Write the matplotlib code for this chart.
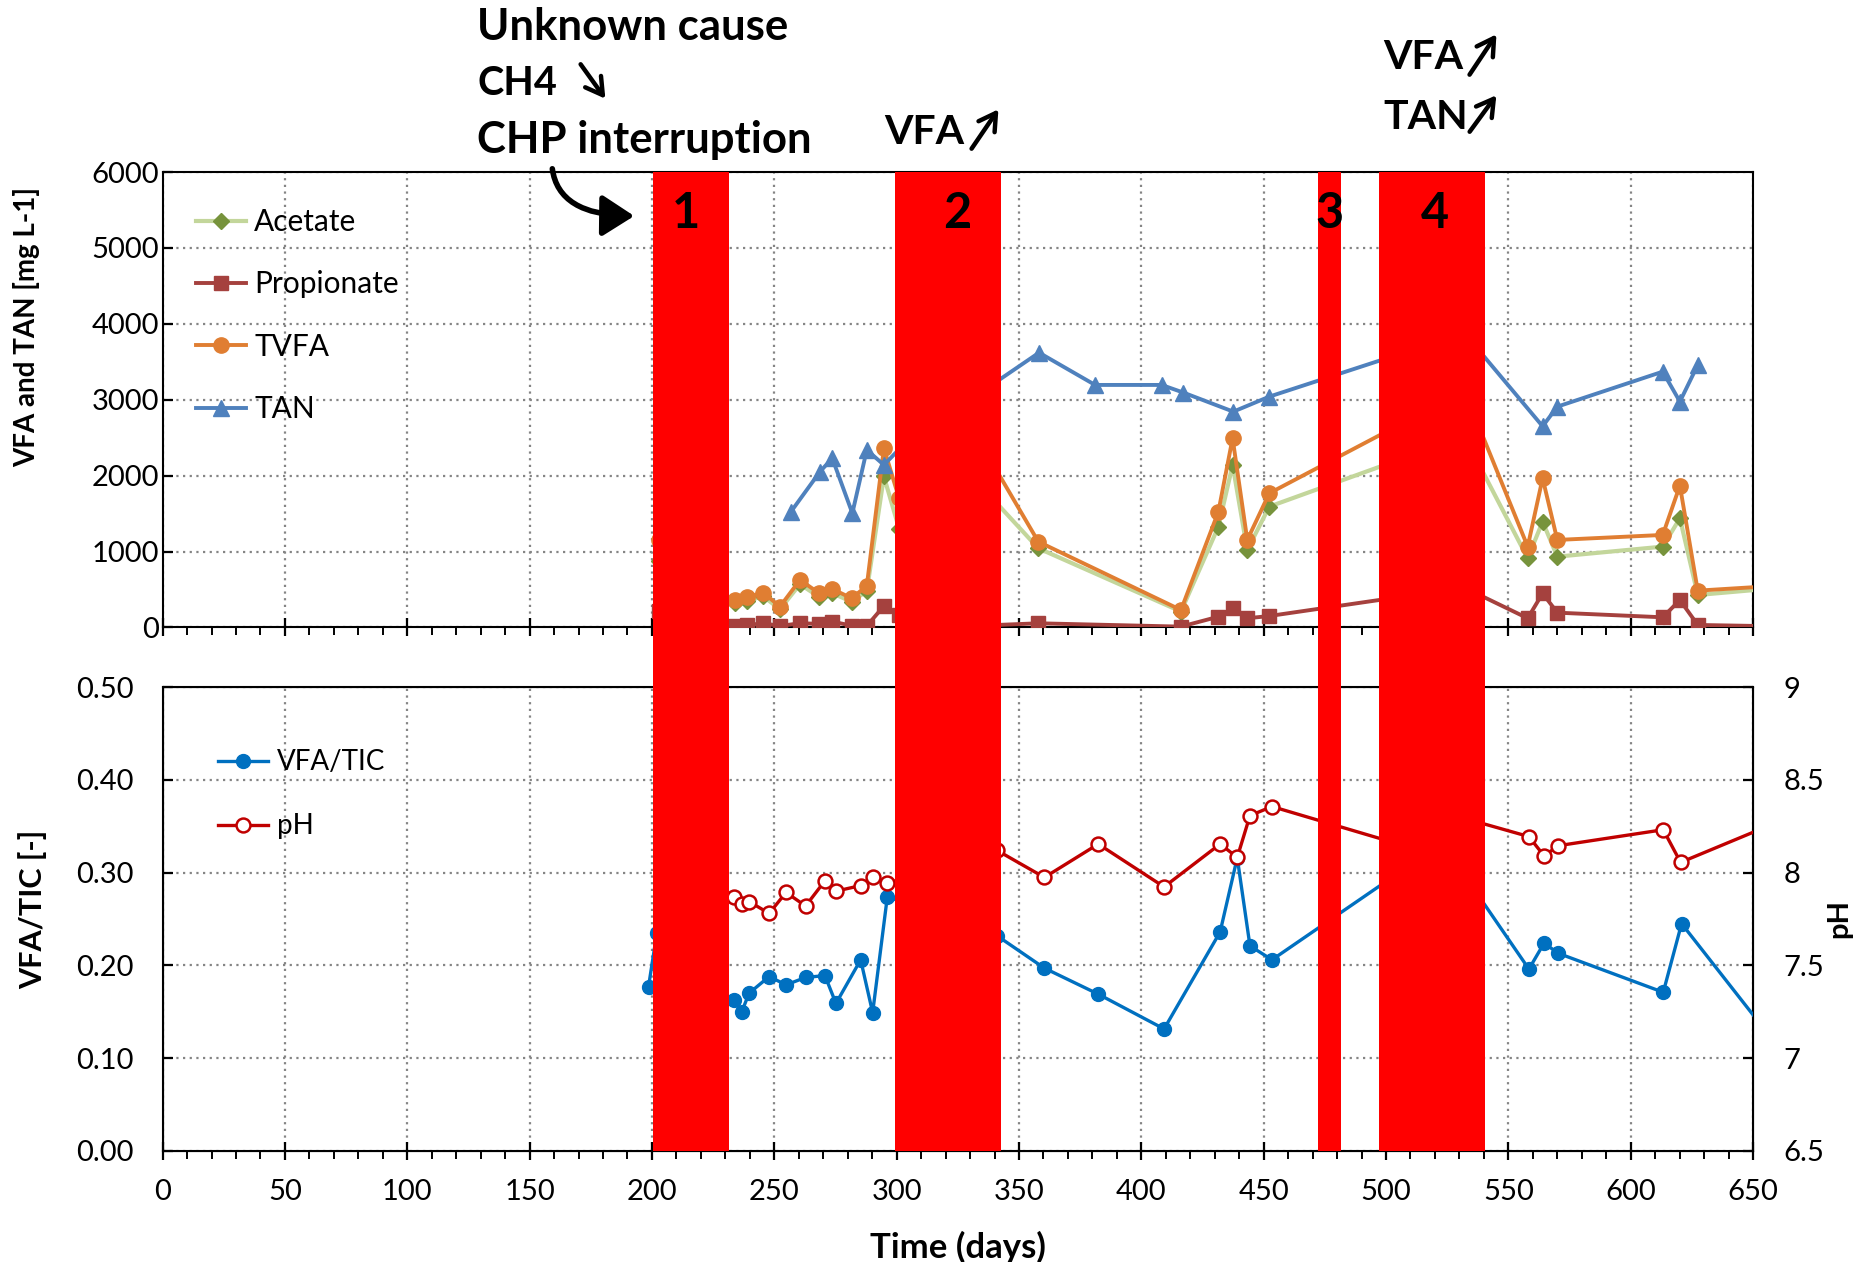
import matplotlib
matplotlib.use("Agg")
import matplotlib.pyplot as plt
from matplotlib.ticker import MultipleLocator, FormatStrFormatter, FuncFormatter
from matplotlib.patches import FancyArrowPatch

plt.rcParams["font.family"] = ["Lato", "DejaVu Sans"]

# datos panel superior (mg/L)
dias_vfa = [203, 218, 227, 234, 238.7, 245.5, 252.3, 260.5, 268.4, 273.7, 281.6, 287.8, 294.8,
            301, 335, 357.9, 416.2, 431.5, 437.3, 443.3, 452.3, 532, 557.9, 564, 570,
            613.1, 620.1, 627.4, 660]
acetato = [880, 420, 330, 320, 350, 410, 240, 570, 400, 450, 340, 480, 1990,
           1300, 1844, 1043, 210, 1328, 2141, 1021, 1592, 2520, 912, 1394, 933,
           1065, 1439, 428, 520]
propionato = [220, 60, 30, 20, 30, 55, 20, 55, 48, 77, 24, 20, 283,
              160, 25, 55, 11, 142, 253, 121, 151, 525, 121, 450, 195,
              134, 362, 33, 15]
tvfa = [1150, 500, 380, 362, 398, 459, 274, 626, 450, 507, 385, 547, 2361,
        1700, 2390, 1130, 230, 1526, 2493, 1153, 1768, 3120, 1065, 1966, 1153,
        1219, 1869, 485, 550]
dias_tan = [256.7, 268.7, 273.7, 281.9, 287.8, 294.8, 305, 335, 358.2, 381.1, 408.3, 417.2,
            437.6, 452.3, 532, 564, 570, 613.1, 620.1, 627.4]
tan = [1520, 2053, 2229, 1505, 2339, 2141, 2480, 3110, 3620, 3195, 3195, 3094,
       2843, 3041, 3880, 2650, 2909, 3370, 2975, 3458]

# datos panel inferior
dias_ratio = [198.6, 202, 215, 227, 233.7, 236.7, 239.7, 247.9, 254.8, 262.8, 270.7, 275.2,
              285.3, 290.2, 296.2, 341, 360.4, 382.4, 409.3, 432.2, 439.2, 444.4, 453.4,
              523, 558.4, 564.6, 570.4, 613.3, 620.8, 660]
vfa_tic = [0.177, 0.235, 0.20, 0.17, 0.163, 0.150, 0.170, 0.188, 0.179, 0.187, 0.189, 0.159,
           0.206, 0.149, 0.274, 0.232, 0.197, 0.169, 0.1315, 0.236, 0.316, 0.221, 0.206,
           0.332, 0.196, 0.224, 0.213, 0.171, 0.245, 0.113]
dias_ph = [206, 215, 227, 233.7, 236.7, 239.7, 247.9, 254.8, 262.8, 270.7, 275.2, 285.3,
           290.2, 296.2, 341, 360.4, 382.4, 409.3, 432.2, 439.2, 444.4, 453.4, 510, 530,
           558.4, 564.6, 570.4, 613.3, 620.4, 660]
ph = [7.80, 7.85, 7.87, 7.866, 7.83, 7.844, 7.78, 7.893, 7.82, 7.956, 7.90, 7.93,
      7.974, 7.943, 8.12, 7.974, 8.154, 7.923, 8.154, 8.082, 8.307, 8.356, 8.135, 8.30,
      8.194, 8.09, 8.145, 8.231, 8.055, 8.272]

periodos = [(200.6, 231.5), (299.3, 342.5), (472.3, 481.5), (497.1, 540.4)]
nombres_periodo = ["1", "2", "3", "4"]
x_nombres = [213.8, 324.7, 477, 520]

fs_tick = 21
gris = "#858585"

fig = plt.figure(figsize=(18.6, 12.62), dpi=100)
ax1 = fig.add_axes([0.0874, 0.5028, 0.8551, 0.3609])
ax2 = fig.add_axes([0.0874, 0.0880, 0.8551, 0.3676])
ax2b = ax2.twinx()


def estilo_ejes(ax):
    ax.set_xlim(0, 650)
    ax.xaxis.set_major_locator(MultipleLocator(50))
    ax.xaxis.set_minor_locator(MultipleLocator(10))
    ax.grid(True, which="major", color=gris, linestyle=(0, (1, 2)), linewidth=1.6)
    ax.tick_params(axis="x", which="major", direction="inout", length=13, width=1.6,
                   labelsize=fs_tick, pad=14)
    ax.tick_params(axis="x", which="minor", direction="out", length=6, width=1.4)
    ax.tick_params(axis="y", which="major", direction="in", length=7, width=1.6,
                   labelsize=fs_tick)
    for s in ax.spines.values():
        s.set_linewidth(1.5)
        s.set_color("black")


estilo_ejes(ax1)
estilo_ejes(ax2)
ax1.tick_params(axis="x", labelbottom=False)
ax1.tick_params(axis="y", pad=2.5)
ax2.tick_params(axis="y", pad=21)

# panel superior
ax1.plot(dias_vfa, acetato, color="#c3d69b", lw=3, marker="D", ms=8,
         mfc="#77933c", mec="#77933c", label="Acetate", zorder=3)
ax1.plot(dias_vfa, propionato, color="#a5413e", lw=2.8, marker="s", ms=10,
         mfc="#a5413e", mec="#a5413e", label="Propionate", zorder=3)
ax1.plot(dias_vfa, tvfa, color="#e07e32", lw=2.8, marker="o", ms=11,
         mfc="#e07e32", mec="#e07e32", label="TVFA", zorder=4)
ax1.plot(dias_tan, tan, color="#4f81bd", lw=2.8, marker="^", ms=12,
         mfc="#4f81bd", mec="#4f81bd", label="TAN", zorder=4)
ax1.set_ylim(0, 6000)
ax1.yaxis.set_major_locator(MultipleLocator(1000))
ax1.set_ylabel("VFA and TAN [mg L-1]", fontsize=20, fontweight="bold")
ax1.yaxis.set_label_coords(-0.077, 0.66)
ax1.legend(loc="upper left", bbox_to_anchor=(0.021, 0.921), frameon=False, fontsize=21.5,
           handlelength=1.67, handletextpad=0.28, labelspacing=1.15, borderpad=0,
           borderaxespad=0)

# panel inferior
l_ratio, = ax2.plot(dias_ratio, vfa_tic, color="#0070c0", lw=2.4, marker="o", ms=10,
                    mfc="#0070c0", mec="#0070c0", label="VFA/TIC", zorder=3)
l_ph, = ax2b.plot(dias_ph, ph, color="#c00000", lw=2.4, marker="o", ms=10,
                  mfc="white", mec="#c00000", mew=1.8, label="pH", zorder=3)
ax2.set_ylim(0, 0.5)
ax2.yaxis.set_major_locator(MultipleLocator(0.1))
ax2.yaxis.set_major_formatter(FormatStrFormatter("%.2f"))
ax2.set_ylabel("VFA/TIC [-]", fontsize=22, fontweight="bold")
ax2.yaxis.set_label_coords(-0.0726, 0.52)
ax2.set_xlabel("Time (days)", fontsize=25, fontweight="bold")
ax2.xaxis.set_label_coords(0.5, -0.172)

ax2b.set_ylim(6.5, 9)
ax2b.yaxis.set_major_locator(MultipleLocator(0.5))
ax2b.yaxis.set_major_formatter(FuncFormatter(lambda v, p: "%g" % v))
ax2b.tick_params(axis="y", direction="in", length=7, width=1.6, labelsize=fs_tick, pad=22)
ax2b.set_ylabel("pH", fontsize=21, fontweight="bold")
ax2b.yaxis.set_label_coords(1.046, 0.5)
ax2b.legend(handles=[l_ratio, l_ph], loc="upper left", bbox_to_anchor=(0.035, 0.8655),
            frameon=False, fontsize=20, handlelength=1.8, handletextpad=0.3,
            labelspacing=1.37, borderpad=0, borderaxespad=0)

# barras rojas de los periodos
ax3 = fig.add_axes([0.0874, 0.0880, 0.8551, 0.7757], zorder=10)
ax3.set_xlim(0, 650)
ax3.set_ylim(0, 1)
ax3.axis("off")
for (ini, fin), nom, xn in zip(periodos, nombres_periodo, x_nombres):
    ax3.axvspan(ini, fin, color="#ff0000", lw=0)
    ax3.text(xn, 0.9428, nom, ha="center", va="baseline",
             fontsize=35, fontweight="bold", color="black")

# textos y flechas de arriba
textos = [("Unknown cause", 477, 1222, 31.5), ("CH4", 477, 1167, 28.5),
          ("CHP interruption", 477, 1109, 31.5), ("VFA", 884, 1118, 29.5),
          ("VFA", 1383, 1193, 29.5), ("TAN", 1383, 1133, 29.5)]
for t, x, y, fs in textos:
    fig.text(x / 1860, y / 1262, t, fontsize=fs, fontweight="bold", ha="left", va="baseline")

flechas = [((579, 1200), (607, 1161)), ((970, 1111), (1000, 1155)),
           ((1468, 1185), (1498, 1230)), ((1468, 1128), (1498, 1169))]
for a, b in flechas:
    fig.add_artist(FancyArrowPatch(a, b, transform=None, arrowstyle="->,head_length=0.6,head_width=0.35",
                                   mutation_scale=20, lw=3.2, color="black"))
fig.add_artist(FancyArrowPatch((552, 1096), (637, 1046), transform=None,
                               connectionstyle="angle3,angleA=-85,angleB=0",
                               arrowstyle="-|>,head_length=0.7,head_width=0.45",
                               mutation_scale=28, lw=4, color="black"))

fig.savefig("out.png", dpi=100)
